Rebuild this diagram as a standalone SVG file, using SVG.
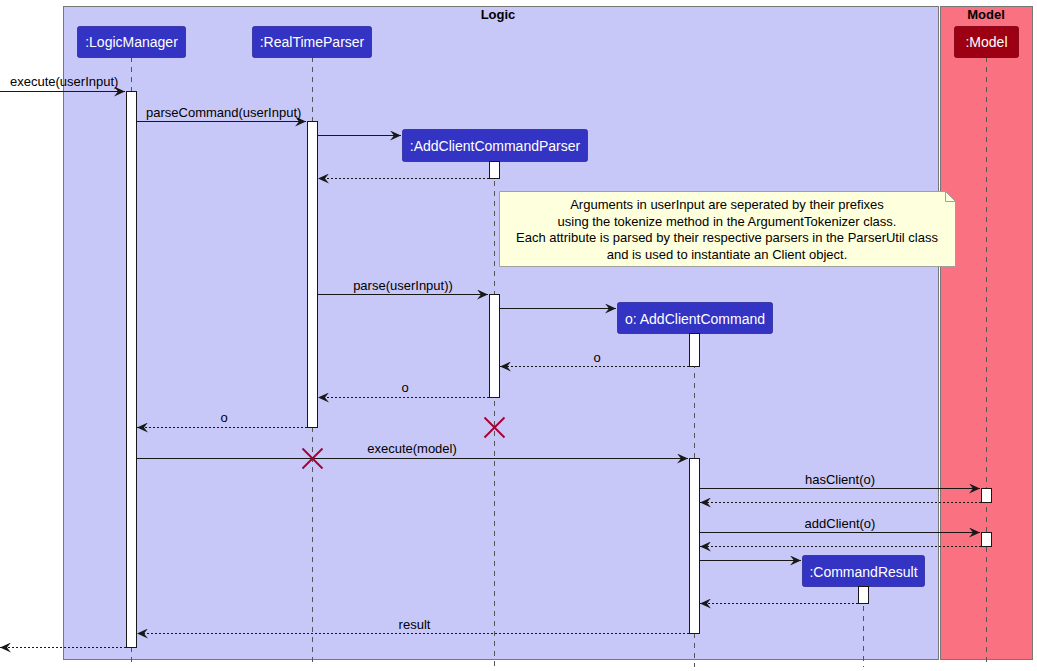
<svg xmlns="http://www.w3.org/2000/svg" width="1037" height="671" viewBox="0 0 1037 671">
<defs>
<style>
text{font-family:"Liberation Sans",Arial,sans-serif;}
.msg{font-size:13px;fill:#000;}
.ptxt{font-size:14px;fill:#fff;text-anchor:middle;}
.pbox{fill:#3333C4;stroke:#2A2A9A;stroke-width:0.8;}
.mbox{fill:#9D0012;stroke:#7A0010;stroke-width:0.8;}
.life{stroke:#555;stroke-width:1;stroke-dasharray:5,5;fill:none;}
.act{fill:#fff;stroke:#181818;stroke-width:1;}
.line{stroke:#181818;stroke-width:1;fill:none;}
.ret{stroke:#181818;stroke-width:1;fill:none;stroke-dasharray:2,2;}
.x{stroke:#A80036;stroke-width:2;}
.title{font-size:13px;font-weight:bold;text-anchor:middle;fill:#000;}
.mid{text-anchor:middle;}
</style>
<marker id="ah" viewBox="0 0 11 10" refX="11" refY="5" markerWidth="11" markerHeight="10" markerUnits="userSpaceOnUse" orient="auto">
<path d="M0,0 L11,5 L0,10 L4,5 Z" fill="#181818"/>
</marker>
</defs>
<rect width="1037" height="671" fill="#fff"/>
<g id="box-logic">
<rect x="63.5" y="6.5" width="875" height="653" fill="#C8C8F8" stroke="#777" stroke-width="1"/>
<text x="498" y="19" class="title">Logic</text>
</g>
<g id="box-model">
<rect x="940.5" y="6.5" width="92" height="653" fill="#FA7182" stroke="#777" stroke-width="1"/>
<text x="986" y="19" class="title">Model</text>
</g>
<g id="lifelines">
<line class="life" x1="131.5" y1="57" x2="131.5" y2="667"/>
<line class="life" x1="312.5" y1="57" x2="312.5" y2="667"/>
<line class="life" x1="494.5" y1="161" x2="494.5" y2="667"/>
<line class="life" x1="694.5" y1="333" x2="694.5" y2="667"/>
<line class="life" x1="863.5" y1="586" x2="863.5" y2="667"/>
<line class="life" x1="986.5" y1="57" x2="986.5" y2="667"/>
</g>
<g id="LogicManager">
<rect class="pbox" x="77.5" y="26.5" width="108" height="31" rx="2"/>
<text class="ptxt" x="131.5" y="47">:LogicManager</text>
<rect class="act" x="126.5" y="91.5" width="10" height="556"/>
</g>
<g id="RealTimeParser">
<rect class="pbox" x="252.5" y="26.5" width="119" height="31" rx="2"/>
<text class="ptxt" x="312" y="47">:RealTimeParser</text>
<rect class="act" x="307.5" y="121.5" width="10" height="306"/>
</g>
<g id="AddClientCommandParser">
<rect class="pbox" x="402.5" y="129.5" width="185" height="32" rx="2"/>
<text class="ptxt" x="495" y="150.5">:AddClientCommandParser</text>
<rect class="act" x="489.5" y="161.5" width="10" height="17"/>
<rect class="act" x="489.5" y="294.5" width="10" height="103"/>
</g>
<g id="AddClientCommand">
<rect class="pbox" x="617.5" y="302.5" width="155" height="31" rx="2"/>
<text class="ptxt" x="695" y="323.5">o: AddClientCommand</text>
<rect class="act" x="689.5" y="333.5" width="10" height="33"/>
<rect class="act" x="689.5" y="458.5" width="10" height="175"/>
</g>
<g id="CommandResult">
<rect class="pbox" x="802.5" y="555.5" width="122" height="31" rx="2"/>
<text class="ptxt" x="863.5" y="576.5">:CommandResult</text>
<rect class="act" x="858.5" y="586.5" width="10" height="17"/>
</g>
<g id="Model">
<rect class="mbox" x="954.5" y="26.5" width="64" height="31" rx="2"/>
<text class="ptxt" x="986.5" y="47">:Model</text>
<rect class="act" x="981.5" y="488.5" width="10" height="14"/>
<rect class="act" x="981.5" y="532.5" width="10" height="14"/>
</g>
<g id="note">
<path d="M499.5,191.5 H945.5 L955.5,201.5 V266.5 H499.5 Z" fill="#FEFFDD" stroke="#A0A0A0" stroke-width="1"/>
<path d="M945.5,191.5 V201.5 H955.5" fill="none" stroke="#A0A0A0" stroke-width="1"/>
<text class="msg mid" x="727" y="209">Arguments in userInput are seperated by their prefixes</text>
<text class="msg mid" x="727" y="225.5">using the tokenize method in the ArgumentTokenizer class.</text>
<text class="msg mid" x="727" y="242">Each attribute is parsed by their respective parsers in the ParserUtil class</text>
<text class="msg mid" x="727" y="258.5">and is used to instantiate an Client object.</text>
</g>
<g id="connectors">
<line class="line" x1="0" y1="91.5" x2="125" y2="91.5" marker-end="url(#ah)"/>
<text class="msg" x="10" y="86">execute(userInput)</text>
<line class="line" x1="137" y1="121.5" x2="306" y2="121.5" marker-end="url(#ah)"/>
<text class="msg" x="146" y="117">parseCommand(userInput)</text>
<line class="line" x1="318" y1="135.5" x2="401" y2="135.5" marker-end="url(#ah)"/>
<line class="ret" x1="489" y1="178.5" x2="318" y2="178.5" marker-end="url(#ah)"/>
<line class="line" x1="318" y1="294.5" x2="488" y2="294.5" marker-end="url(#ah)"/>
<text class="msg mid" x="403" y="290">parse(userInput))</text>
<line class="line" x1="500" y1="308.5" x2="616" y2="308.5" marker-end="url(#ah)"/>
<line class="ret" x1="689" y1="366.5" x2="500" y2="366.5" marker-end="url(#ah)"/>
<text class="msg mid" x="597" y="361.5">o</text>
<line class="ret" x1="489" y1="397.5" x2="318" y2="397.5" marker-end="url(#ah)"/>
<text class="msg mid" x="405" y="391.5">o</text>
<line class="ret" x1="307" y1="427.5" x2="137" y2="427.5" marker-end="url(#ah)"/>
<text class="msg mid" x="224" y="421.5">o</text>
<line class="x" x1="484.5" y1="417.5" x2="504.5" y2="437.5"/>
<line class="x" x1="504.5" y1="417.5" x2="484.5" y2="437.5"/>
<line class="line" x1="137" y1="458.5" x2="688" y2="458.5" marker-end="url(#ah)"/>
<text class="msg mid" x="412" y="453">execute(model)</text>
<line class="x" x1="302.5" y1="448.5" x2="322.5" y2="468.5"/>
<line class="x" x1="322.5" y1="448.5" x2="302.5" y2="468.5"/>
<line class="line" x1="700" y1="488.5" x2="980" y2="488.5" marker-end="url(#ah)"/>
<text class="msg mid" x="840" y="483.5">hasClient(o)</text>
<line class="ret" x1="981" y1="502.5" x2="700" y2="502.5" marker-end="url(#ah)"/>
<line class="line" x1="700" y1="532.5" x2="980" y2="532.5" marker-end="url(#ah)"/>
<text class="msg mid" x="840" y="527.5">addClient(o)</text>
<line class="ret" x1="981" y1="546.5" x2="700" y2="546.5" marker-end="url(#ah)"/>
<line class="line" x1="700" y1="560.5" x2="801" y2="560.5" marker-end="url(#ah)"/>
<line class="ret" x1="858" y1="603.5" x2="700" y2="603.5" marker-end="url(#ah)"/>
<line class="ret" x1="689" y1="633.5" x2="137" y2="633.5" marker-end="url(#ah)"/>
<text class="msg mid" x="414.5" y="628.5">result</text>
<line class="ret" x1="126" y1="647.5" x2="0" y2="647.5" marker-end="url(#ah)"/>
</g>
</svg>
